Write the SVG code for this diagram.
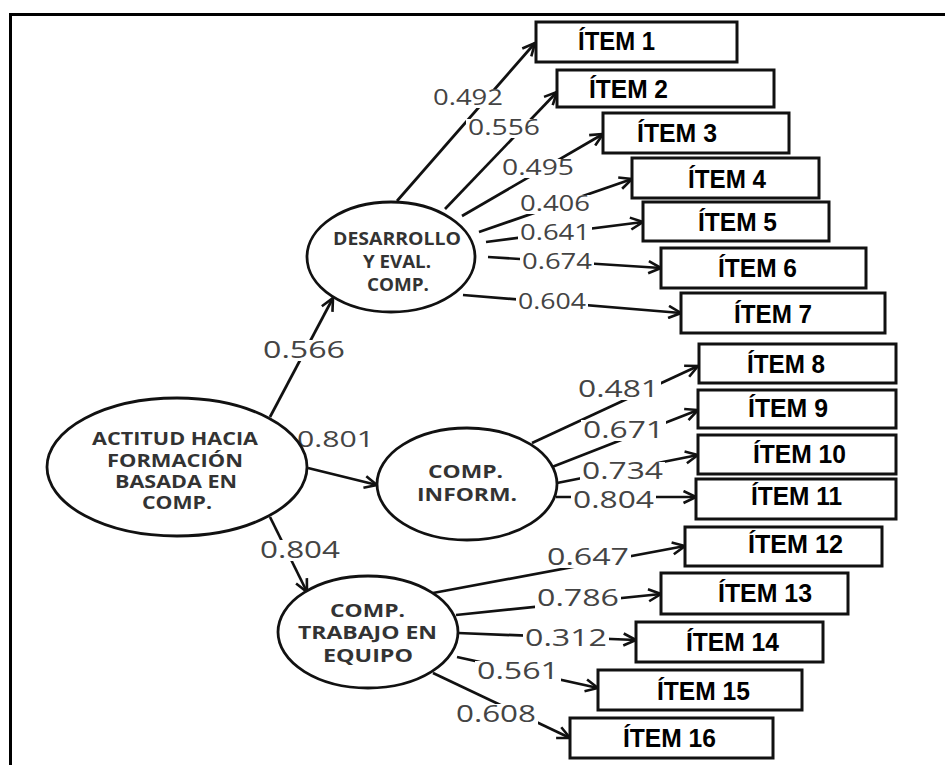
<svg xmlns="http://www.w3.org/2000/svg" width="945" height="765" viewBox="0 0 945 765">
<defs>
<marker id="arr" markerUnits="userSpaceOnUse" markerWidth="15" markerHeight="15" viewBox="0 0 15 15" refX="14" refY="7.5" orient="auto">
<path d="M1.5,1.5 L14,7.5 L1.5,13.5" fill="none" stroke="#111" stroke-width="2.6" stroke-linejoin="miter"/>
</marker>
<style>
.frame{stroke:#000;stroke-width:3;fill:none}
.ell{fill:#fff;stroke:#111;stroke-width:2.8}
.box{fill:#fff;stroke:#111;stroke-width:3}
.ln{stroke:#111;stroke-width:2.7;fill:none}
.bg{fill:#fff}
.et{font-family:"Open Sans","DejaVu Sans",sans-serif;font-weight:bold;font-size:17px;fill:#333}
.it{font-family:"Liberation Sans",Arial,sans-serif;font-weight:bold;font-size:25px;fill:#000}
.lb{font-family:"Open Sans","DejaVu Sans",sans-serif;font-size:21px;fill:#444}
.lb2{font-size:23px}
</style>
</defs>
<rect width="945" height="765" fill="#fff"/>
<path class="frame" d="M10.5,765 L10.5,14.5 L945,14.5"/>

<g id="connectors">
<line class="ln" x1="270" y1="417" x2="333" y2="298" marker-end="url(#arr)"/>
<line class="ln" x1="308" y1="468" x2="377" y2="485" marker-end="url(#arr)"/>
<line class="ln" x1="270" y1="517" x2="307" y2="592" marker-end="url(#arr)"/>

<line class="ln" x1="397" y1="201" x2="535" y2="43" marker-end="url(#arr)"/>
<line class="ln" x1="445" y1="209" x2="557" y2="92" marker-end="url(#arr)"/>
<line class="ln" x1="462" y1="216" x2="603" y2="134" marker-end="url(#arr)"/>
<line class="ln" x1="479" y1="232" x2="632" y2="179" marker-end="url(#arr)"/>
<line class="ln" x1="486" y1="242" x2="643" y2="222" marker-end="url(#arr)"/>
<line class="ln" x1="488" y1="257" x2="661" y2="268" marker-end="url(#arr)"/>
<line class="ln" x1="463" y1="295" x2="681" y2="313" marker-end="url(#arr)"/>

<line class="ln" x1="532" y1="443" x2="698" y2="366" marker-end="url(#arr)"/>
<line class="ln" x1="552" y1="467" x2="698" y2="410" marker-end="url(#arr)"/>
<line class="ln" x1="557" y1="483" x2="698" y2="455" marker-end="url(#arr)"/>
<line class="ln" x1="556" y1="497" x2="696" y2="497" marker-end="url(#arr)"/>

<line class="ln" x1="433" y1="593" x2="685" y2="546" marker-end="url(#arr)"/>
<line class="ln" x1="456" y1="615" x2="661" y2="594" marker-end="url(#arr)"/>
<line class="ln" x1="458" y1="633" x2="636" y2="640" marker-end="url(#arr)"/>
<line class="ln" x1="457" y1="657" x2="598" y2="688" marker-end="url(#arr)"/>
<line class="ln" x1="433" y1="673" x2="570" y2="738" marker-end="url(#arr)"/>

<rect class="bg" x="261" y="340" width="86" height="21"/>
<rect class="bg" x="299" y="431" width="79" height="19"/>
<rect class="bg" x="258" y="540" width="84" height="21"/>
<rect class="bg" x="431" y="89" width="74" height="19"/>
<rect class="bg" x="466" y="119" width="76" height="19"/>
<rect class="bg" x="500" y="159" width="76" height="19"/>
<rect class="bg" x="518" y="195" width="74" height="19"/>
<rect class="bg" x="518" y="224" width="74" height="19"/>
<rect class="bg" x="520" y="253" width="74" height="19"/>
<rect class="bg" x="516" y="293" width="72" height="19"/>
<rect class="bg" x="576" y="379" width="85" height="21"/>
<rect class="bg" x="581" y="420" width="85" height="21"/>
<rect class="bg" x="580" y="462" width="85" height="21"/>
<rect class="bg" x="571" y="490" width="85" height="21"/>
<rect class="bg" x="545" y="547" width="86" height="21"/>
<rect class="bg" x="535" y="588" width="86" height="21"/>
<rect class="bg" x="523" y="628" width="86" height="21"/>
<rect class="bg" x="475" y="661" width="86" height="21"/>
<rect class="bg" x="454" y="704" width="84" height="21"/>

<text class="lb lb2" x="263" y="358" textLength="82" lengthAdjust="spacingAndGlyphs">0.566</text>
<text class="lb" x="297" y="447" textLength="77" lengthAdjust="spacingAndGlyphs">0.801</text>
<text class="lb lb2" x="260" y="558" textLength="80" lengthAdjust="spacingAndGlyphs">0.804</text>

<text class="lb" x="433" y="105" textLength="70" lengthAdjust="spacingAndGlyphs">0.492</text>
<text class="lb" x="468" y="135" textLength="72" lengthAdjust="spacingAndGlyphs">0.556</text>
<text class="lb" x="502" y="175" textLength="72" lengthAdjust="spacingAndGlyphs">0.495</text>
<text class="lb" x="520" y="211" textLength="70" lengthAdjust="spacingAndGlyphs">0.406</text>
<text class="lb" x="520" y="240" textLength="70" lengthAdjust="spacingAndGlyphs">0.641</text>
<text class="lb" x="522" y="269" textLength="70" lengthAdjust="spacingAndGlyphs">0.674</text>
<text class="lb" x="518" y="309" textLength="68" lengthAdjust="spacingAndGlyphs">0.604</text>

<text class="lb lb2" x="578" y="397" textLength="81" lengthAdjust="spacingAndGlyphs">0.481</text>
<text class="lb lb2" x="583" y="438" textLength="81" lengthAdjust="spacingAndGlyphs">0.671</text>
<text class="lb lb2" x="582" y="479" textLength="81" lengthAdjust="spacingAndGlyphs">0.734</text>
<text class="lb lb2" x="573" y="508" textLength="81" lengthAdjust="spacingAndGlyphs">0.804</text>
<text class="lb lb2" x="547" y="565" textLength="82" lengthAdjust="spacingAndGlyphs">0.647</text>
<text class="lb lb2" x="537" y="606" textLength="82" lengthAdjust="spacingAndGlyphs">0.786</text>
<text class="lb lb2" x="525" y="646" textLength="82" lengthAdjust="spacingAndGlyphs">0.312</text>
<text class="lb lb2" x="477" y="679" textLength="82" lengthAdjust="spacingAndGlyphs">0.561</text>
<text class="lb lb2" x="456" y="722" textLength="80" lengthAdjust="spacingAndGlyphs">0.608</text>
</g>

<g id="actitud">
<ellipse class="ell" cx="177" cy="467" rx="130" ry="69"/>
<text class="et" x="92" y="445" textLength="166" lengthAdjust="spacingAndGlyphs">ACTITUD HACIA</text>
<text class="et" x="107" y="467" textLength="136" lengthAdjust="spacingAndGlyphs">FORMACIÓN</text>
<text class="et" x="115" y="488" textLength="122" lengthAdjust="spacingAndGlyphs">BASADA EN</text>
<text class="et" x="142" y="509" textLength="70" lengthAdjust="spacingAndGlyphs">COMP.</text>
</g>

<g id="desarrollo">
<ellipse class="ell" cx="391" cy="257" rx="84" ry="55"/>
<text class="et" x="333" y="245" textLength="128" lengthAdjust="spacingAndGlyphs">DESARROLLO</text>
<text class="et" x="363" y="268" textLength="68" lengthAdjust="spacingAndGlyphs">Y EVAL.</text>
<text class="et" x="367" y="291" textLength="62" lengthAdjust="spacingAndGlyphs">COMP.</text>
</g>

<g id="inform">
<ellipse class="ell" cx="467" cy="484" rx="90" ry="56"/>
<text class="et" x="428" y="478" textLength="75" lengthAdjust="spacingAndGlyphs">COMP.</text>
<text class="et" x="417" y="501" textLength="100" lengthAdjust="spacingAndGlyphs">INFORM.</text>
</g>

<g id="trabajo">
<ellipse class="ell" cx="368" cy="632" rx="90" ry="56"/>
<text class="et" x="330" y="617" textLength="75" lengthAdjust="spacingAndGlyphs">COMP.</text>
<text class="et" x="298" y="639" textLength="139" lengthAdjust="spacingAndGlyphs">TRABAJO EN</text>
<text class="et" x="323" y="662" textLength="90" lengthAdjust="spacingAndGlyphs">EQUIPO</text>
</g>

<g id="item1"><rect class="box" x="536" y="22" width="201" height="40"/><text class="it" x="578" y="50" textLength="77" lengthAdjust="spacingAndGlyphs">ÍTEM 1</text></g>
<g id="item2"><rect class="box" x="557" y="70" width="217" height="37"/><text class="it" x="589" y="98" textLength="79" lengthAdjust="spacingAndGlyphs">ÍTEM 2</text></g>
<g id="item3"><rect class="box" x="603" y="113" width="186" height="40"/><text class="it" x="637" y="142" textLength="80" lengthAdjust="spacingAndGlyphs">ÍTEM 3</text></g>
<g id="item4"><rect class="box" x="632" y="158" width="187" height="40"/><text class="it" x="688" y="188" textLength="78" lengthAdjust="spacingAndGlyphs">ÍTEM 4</text></g>
<g id="item5"><rect class="box" x="643" y="202" width="186" height="39"/><text class="it" x="698" y="231" textLength="79" lengthAdjust="spacingAndGlyphs">ÍTEM 5</text></g>
<g id="item6"><rect class="box" x="661" y="248" width="205" height="40"/><text class="it" x="718" y="277" textLength="79" lengthAdjust="spacingAndGlyphs">ÍTEM 6</text></g>
<g id="item7"><rect class="box" x="681" y="293" width="204" height="40"/><text class="it" x="734" y="323" textLength="78" lengthAdjust="spacingAndGlyphs">ÍTEM 7</text></g>
<g id="item8"><rect class="box" x="699" y="344" width="197" height="39"/><text class="it" x="747" y="373" textLength="78" lengthAdjust="spacingAndGlyphs">ÍTEM 8</text></g>
<g id="item9"><rect class="box" x="698" y="390" width="198" height="38"/><text class="it" x="748" y="417" textLength="80" lengthAdjust="spacingAndGlyphs">ÍTEM 9</text></g>
<g id="item10"><rect class="box" x="698" y="435" width="198" height="39"/><text class="it" x="753" y="463" textLength="93" lengthAdjust="spacingAndGlyphs">ÍTEM 10</text></g>
<g id="item11"><rect class="box" x="696" y="479" width="200" height="40"/><text class="it" x="751" y="505" textLength="91" lengthAdjust="spacingAndGlyphs">ÍTEM 11</text></g>
<g id="item12"><rect class="box" x="685" y="527" width="197" height="39"/><text class="it" x="748" y="553" textLength="95" lengthAdjust="spacingAndGlyphs">ÍTEM 12</text></g>
<g id="item13"><rect class="box" x="661" y="573" width="187" height="41"/><text class="it" x="718" y="602" textLength="94" lengthAdjust="spacingAndGlyphs">ÍTEM 13</text></g>
<g id="item14"><rect class="box" x="636" y="622" width="187" height="40"/><text class="it" x="686" y="651" textLength="93" lengthAdjust="spacingAndGlyphs">ÍTEM 14</text></g>
<g id="item15"><rect class="box" x="598" y="670" width="204" height="40"/><text class="it" x="657" y="700" textLength="93" lengthAdjust="spacingAndGlyphs">ÍTEM 15</text></g>
<g id="item16"><rect class="box" x="570" y="718" width="203" height="40"/><text class="it" x="623" y="747" textLength="93" lengthAdjust="spacingAndGlyphs">ÍTEM 16</text></g>
</svg>
